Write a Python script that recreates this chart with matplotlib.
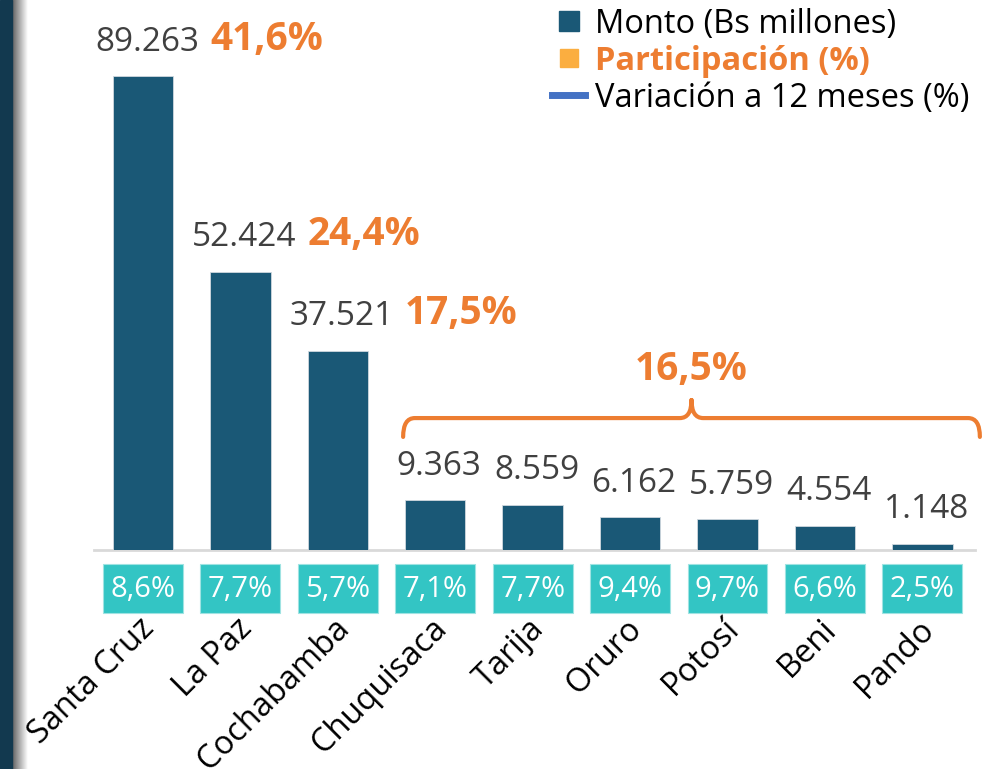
import matplotlib
matplotlib.use('Agg')
import matplotlib.pyplot as plt
import numpy as np
from matplotlib.patches import Rectangle, PathPatch
from matplotlib.path import Path
from matplotlib.lines import Line2D
import matplotlib.transforms as mtransforms

plt.rcParams['font.family'] = ['Open Sans', 'DejaVu Sans']

# datos
departamentos = ['Santa Cruz', 'La Paz', 'Cochabamba', 'Chuquisaca', 'Tarija',
                 'Oruro', 'Potosí', 'Beni', 'Pando']
monto = [89263, 52424, 37521, 9363, 8559, 6162, 5759, 4554, 1148]
participacion = [41.6, 24.4, 17.5]
participacion_resto = 16.5
variacion = [8.6, 7.7, 5.7, 7.1, 7.7, 9.4, 9.7, 6.6, 2.5]

C_BAR = '#1A5876'
C_ORANGE = '#ED7D31'
C_TEAL = '#33C5C4'
C_NUM = '#404040'


def fmt_miles(v):
    return f"{v:,}".replace(",", ".")


def fmt_pct(v):
    return f"{v:.1f}%".replace(".", ",")


fig = plt.figure(figsize=(9.94, 7.69), dpi=100)

# franja oscura a la izquierda con sombra
fig.add_artist(Rectangle((0, 0), 12 / 994, 1, transform=fig.transFigure,
                         color='#12394F', zorder=5))
ax_sh = fig.add_axes([12 / 994, 0, 16 / 994, 1])
grad = np.linspace(0, 1, 64).reshape(1, -1)
ax_sh.imshow(grad, aspect='auto', cmap='gray', vmin=-0.6, vmax=1.0,
             extent=(0, 1, 0, 1))
ax_sh.axis('off')

ax = fig.add_axes([94 / 994, 219 / 769, 881 / 994, 550 / 769])
x = np.arange(len(departamentos))
ax.bar(x, monto, width=0.62, color=C_BAR, edgecolor='#cfd8df', linewidth=0.6,
       zorder=3)
ax.set_xlim(-0.503, 8.54)
ax.set_ylim(0, 103600)
for s in ['top', 'right', 'left']:
    ax.spines[s].set_visible(False)
ax.spines['bottom'].set_color('#D9D9D9')
ax.spines['bottom'].set_linewidth(2)
ax.set_xticks([])
ax.set_yticks([])
ax.patch.set_alpha(0)

# etiquetas de monto y participacion
for i, v in enumerate(monto):
    t = ax.annotate(fmt_miles(v), xy=(i, v), xytext=(4, 34),
                    textcoords='offset pixels', ha='center', va='center',
                    fontsize=24, color=C_NUM)
    if i < len(participacion):
        ax.annotate(fmt_pct(participacion[i]), xy=(1, 0), xycoords=t,
                    xytext=(11, 0), textcoords='offset pixels',
                    ha='left', va='bottom', fontsize=28, fontweight='bold',
                    color=C_ORANGE)

# llave sobre los departamentos restantes
x0, x1, xm = 2.67, 8.59, 5.63
yb, yl, yt = 21300, 24850, 28250
r = 0.12
verts = [(x0, yb), (x0, yl), (x0 + r, yl), (xm - r, yl), (xm, yl), (xm, yt),
         (xm, yt), (xm, yl), (xm + r, yl), (x1 - r, yl), (x1, yl), (x1, yb)]
codes = [Path.MOVETO, Path.CURVE3, Path.CURVE3, Path.LINETO, Path.CURVE3, Path.CURVE3,
         Path.MOVETO, Path.CURVE3, Path.CURVE3, Path.LINETO, Path.CURVE3, Path.CURVE3]
ax.add_patch(PathPatch(Path(verts, codes), facecolor='none', edgecolor=C_ORANGE,
                       lw=3, clip_on=False, capstyle='round'))
ax.text(xm, 34000, fmt_pct(participacion_resto), ha='center', va='center',
        fontsize=28, fontweight='bold', color=C_ORANGE)

# cajas de variacion a 12 meses
trans = mtransforms.blended_transform_factory(ax.transData, ax.transAxes)
for i, v in enumerate(variacion):
    ax.add_patch(Rectangle((i - 0.41, -0.1145), 0.82, 0.089, transform=trans,
                           facecolor=C_TEAL, edgecolor='#9fe3e2', lw=0.8,
                           clip_on=False))
    ax.text(i, -0.071, fmt_pct(v), transform=trans, ha='center', va='center',
            fontsize=21, color='white')

# nombres de departamentos
for i, name in enumerate(departamentos):
    ax.text(i - 0.05, -0.113, name, transform=trans, rotation=45,
            rotation_mode='anchor', ha='right', va='top', fontsize=23.5,
            color='black')

# leyenda
handles = [Line2D([], [], marker='s', ls='none', color=C_BAR, markersize=14),
           Line2D([], [], marker='s', ls='none', color='#FBAE40', markersize=13),
           Line2D([], [], color='#4472C4', lw=5)]
labels = ['Monto (Bs millones)', 'Participación (%)', 'Variación a 12 meses (%)']
leg = fig.legend(handles, labels, loc='upper right', bbox_to_anchor=(0.988, 1.007),
                 frameon=False, fontsize=23.5, labelspacing=0.12, handlelength=1.0,
                 handletextpad=0.3, borderaxespad=0)
leg.get_texts()[1].set_color(C_ORANGE)
leg.get_texts()[1].set_fontweight('bold')

fig.savefig('out.png', dpi=100)
